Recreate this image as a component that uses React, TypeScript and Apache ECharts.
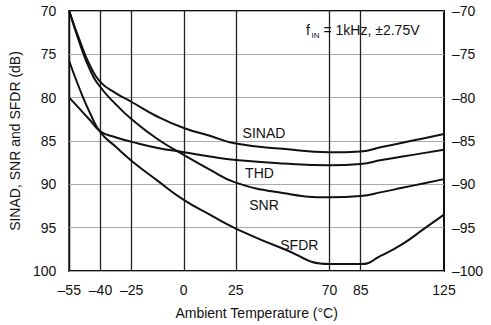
import React, { useEffect, useRef } from "react";
import * as echarts from "echarts";

const temps = [-55, -50, -45, -40, -32.5, -25, -12.5, 0, 12.5, 25, 47.5, 70, 85, 95, 105, 115, 125];
const sinad = [70, 73.4, 76.3, 78.2, 79.5, 80.5, 82.2, 83.5, 84.4, 85.3, 85.9, 86.3, 86.2, 85.7, 85.2, 84.7, 84.2];
const thd = [80, 81.3, 82.6, 83.9, 84.6, 85.1, 85.8, 86.3, 86.8, 87.2, 87.6, 87.8, 87.65, 87.2, 86.8, 86.4, 86.0];
const snr = [70, 73.7, 76.8, 78.8, 80.8, 82.5, 84.8, 86.6, 88.3, 89.8, 91.0, 91.5, 91.35, 90.9, 90.4, 89.9, 89.4];
const sfdr = [75.8, 79.0, 81.8, 84.0, 85.7, 87.3, 89.6, 91.8, 93.5, 95.1, 97.4, 99.2, 99.2, 98.2, 96.9, 95.2, 93.5];

const xTicks = [-55, -40, -25, 0, 25, 70, 85, 125];
const innerXLines = [-40, -25, 0, 25, 70, 85];
const seriesNames = ["SINAD", "THD", "SNR", "SFDR"];

const FONT = "Liberation Sans, Arial, Helvetica, sans-serif";
const INK = "#111";

const fmt = (v: number) => (v < 0 ? "\u2013" + Math.abs(v) : String(v));

export default function App() {
  const ref = useRef<HTMLDivElement>(null);
  useEffect(() => {
    if (!ref.current) return;
    const chart = echarts.init(ref.current, undefined, { renderer: "svg" });
    const all = [sinad, thd, snr, sfdr];
    const series: any[] = all.map((vals, i) => ({
      name: seriesNames[i],
      type: "line",
      data: temps.map((t, j) => [t, vals[j]]),
      showSymbol: false,
      smooth: 0.5,
      lineStyle: { color: INK, width: 2 },
      z: 5,
    }));
    series.push({
      type: "line",
      data: [],
      markLine: {
        silent: true,
        symbol: "none",
        label: { show: false },
        lineStyle: { color: "#222", width: 1.3, type: "solid" },
        data: innerXLines.map((x) => ({ xAxis: x })),
      },
    });
    const txt = (text: string, x: number, y: number, size = 14, align = "center") => ({
      type: "text",
      x,
      y,
      style: { text, fill: INK, font: `${size}px ${FONT}`, textAlign: align, textVerticalAlign: "middle" },
      z: 10,
    });
    chart.setOption({
      animation: false,
      textStyle: { fontFamily: FONT },
      grid: {
        left: 63,
        right: 47,
        top: 11,
        bottom: 54,
        show: true,
        borderColor: INK,
        borderWidth: 2,
      },
      xAxis: {
        type: "value",
        min: -55,
        max: 125,
        name: "Ambient Temperature (\u00b0C)",
        nameLocation: "middle",
        nameGap: 35,
        nameTextStyle: { color: INK, fontSize: 14, fontFamily: FONT },
        axisLine: { show: false },
        axisTick: { show: false },
        splitLine: { show: false },
        axisLabel: {
          customValues: xTicks,
          formatter: fmt,
          color: INK,
          fontSize: 14,
          fontFamily: FONT,
          margin: 12,
        },
      },
      yAxis: [
        {
          type: "value",
          min: 70,
          max: 100,
          interval: 5,
          inverse: true,
          name: "SINAD, SNR and SFDR (dB)",
          nameLocation: "middle",
          nameGap: 41,
          nameTextStyle: { color: INK, fontSize: 14, fontFamily: FONT },
          axisLine: { show: false },
          axisTick: { show: false },
          splitLine: { show: true, lineStyle: { color: "#aaa", width: 1 } },
          axisLabel: { color: INK, fontSize: 14, fontFamily: FONT, margin: 13 },
        },
        {
          type: "value",
          min: 70,
          max: 100,
          interval: 5,
          inverse: true,
          position: "right",
          axisLine: { show: false },
          axisTick: { show: false },
          splitLine: { show: false },
          axisLabel: {
            color: INK,
            fontSize: 14,
            fontFamily: FONT,
            margin: 8,
            formatter: (v: number) => fmt(-v),
          },
        },
      ],
      series,
      graphic: [
        txt("SINAD", 264, 132.5),
        txt("THD", 259.5, 173.3),
        txt("SNR", 264, 205.3),
        txt("SFDR", 299.3, 244.7),
        txt("f", 306, 30, 14, "left"),
        txt("IN", 311.5, 35, 8, "left"),
        txt("= 1kHz, \u00b12.75V", 323.5, 30, 14, "left"),
      ],
    });
    return () => chart.dispose();
  }, []);
  return (
    <div
      ref={ref}
      style={{ position: "fixed", left: 0, top: 0, width: 491, height: 325, background: "#fff" }}
    />
  );
}
